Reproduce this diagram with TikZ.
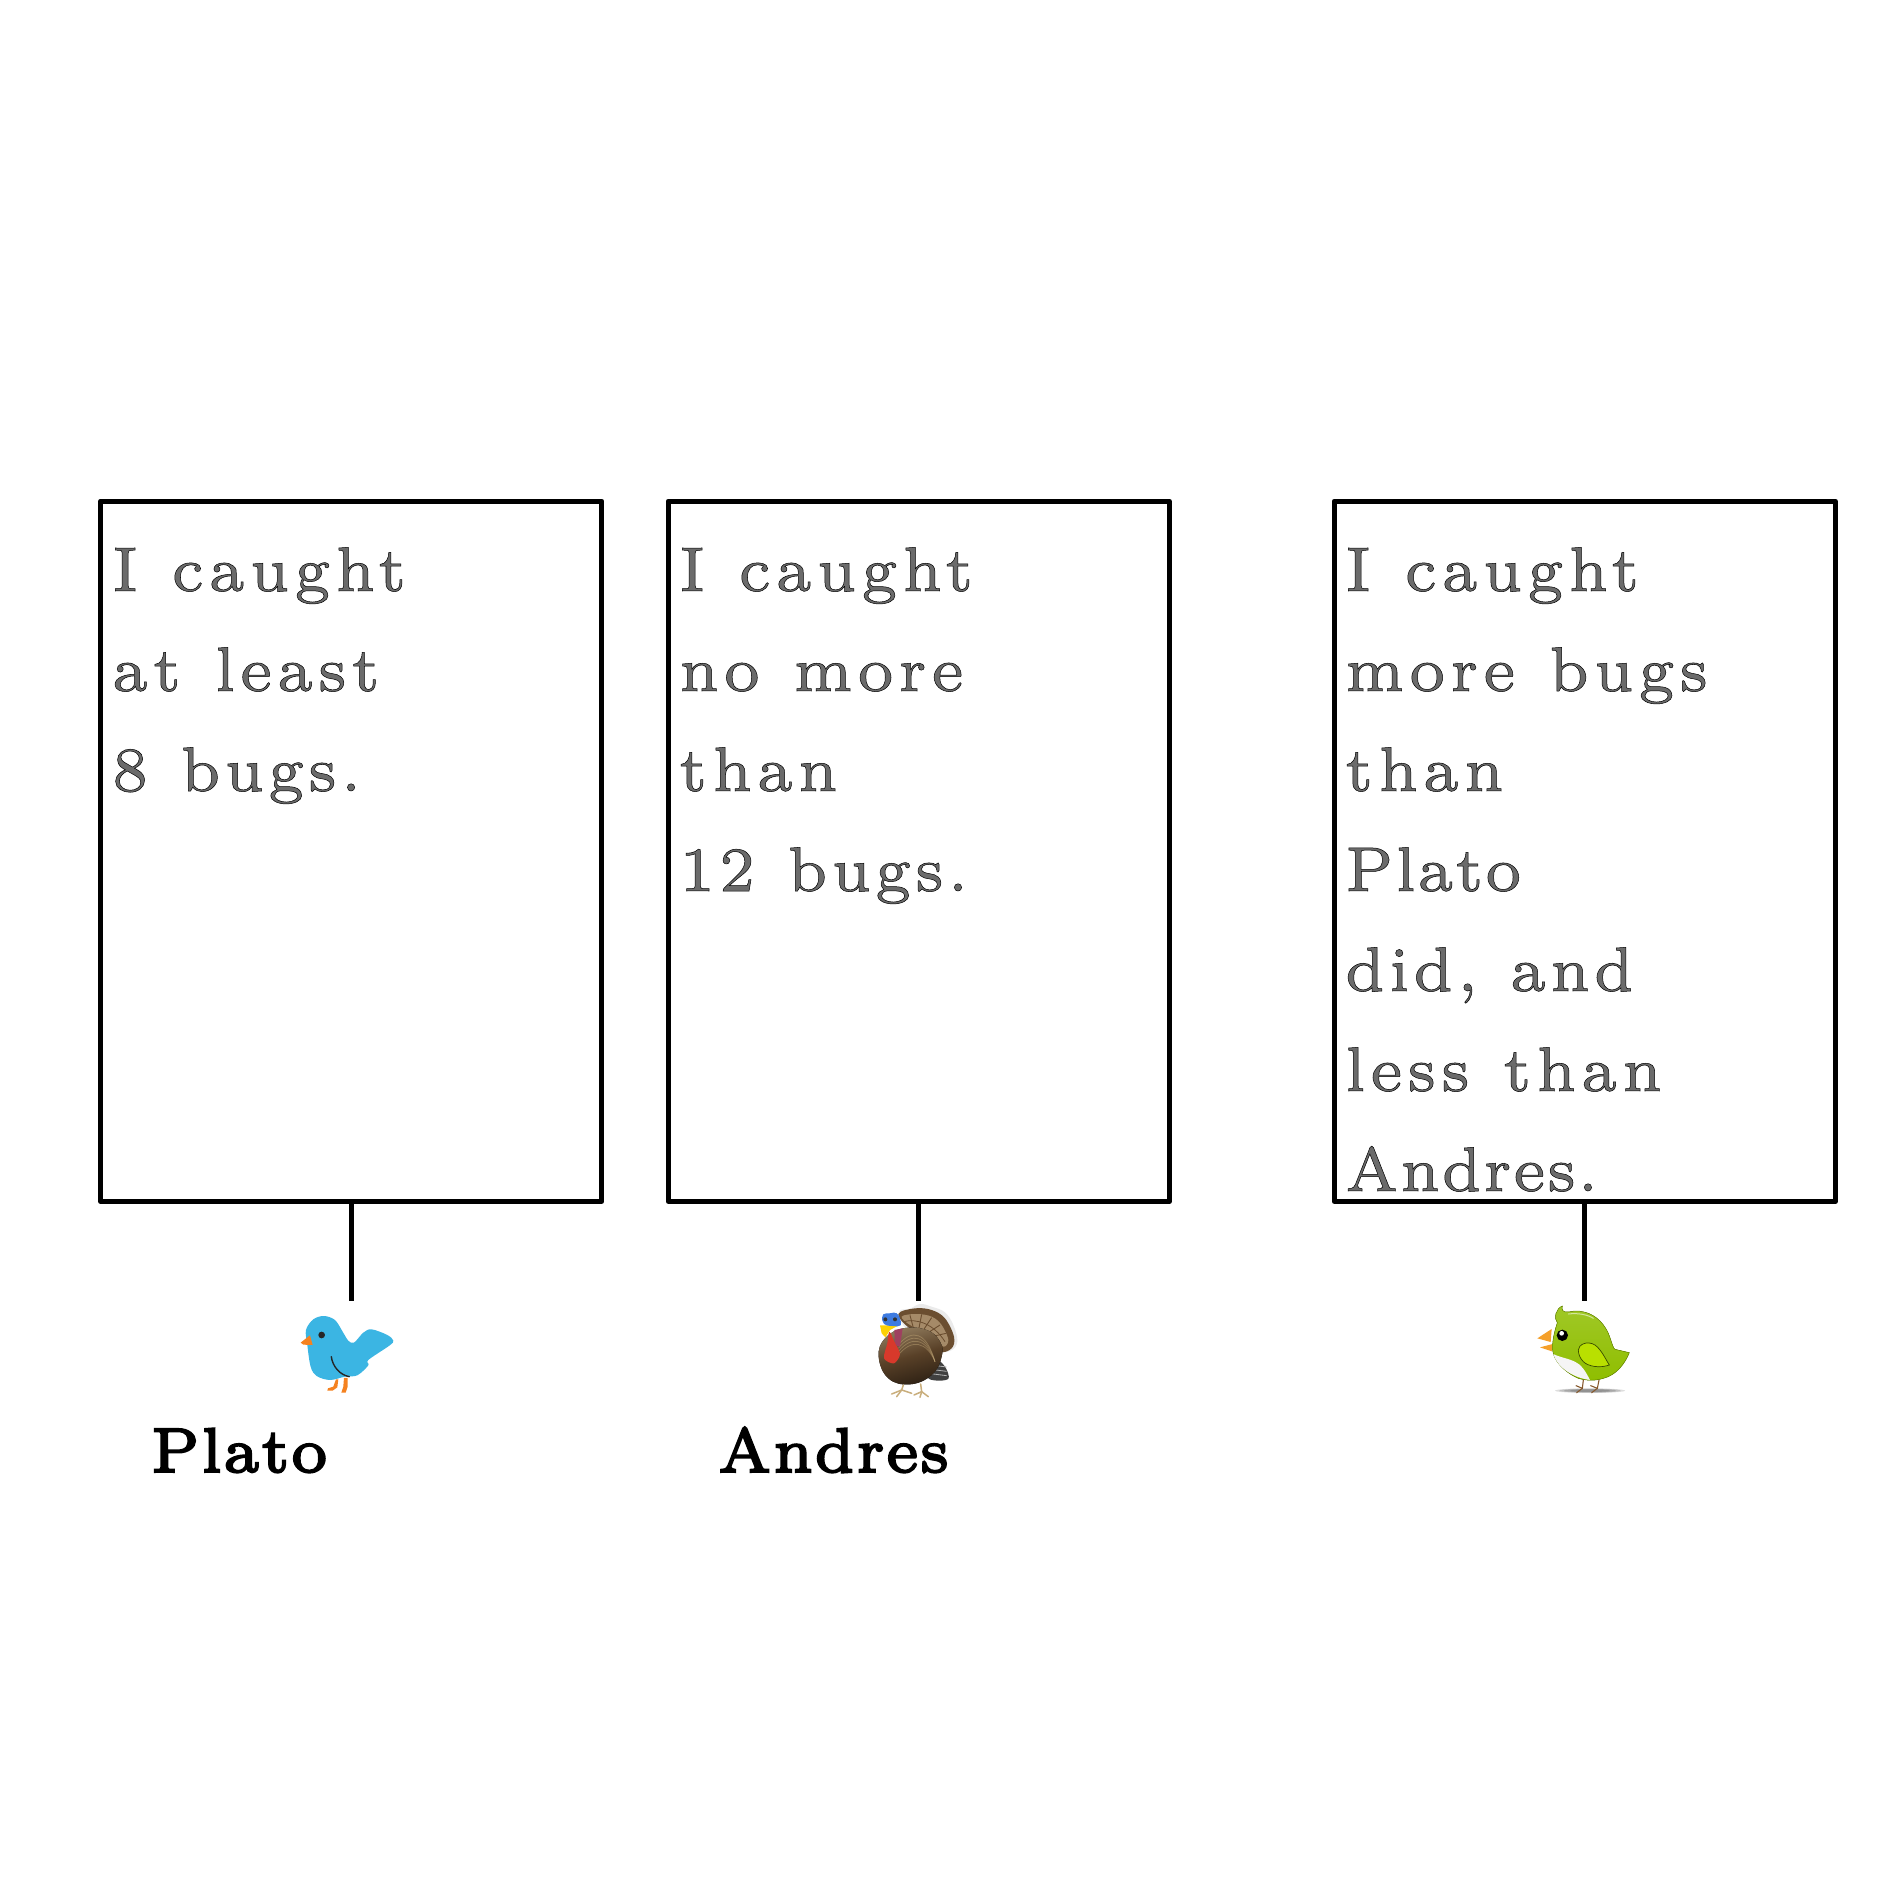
\documentclass[tikz,border=0pt]{standalone}
\usepackage{fontspec}
\setmainfont{Latin Modern Roman}
\newfontfamily\tracked[LetterSpace=8,WordSpace=1.15]{lmroman7-regular.otf}
\newfontfamily\trackedmid[LetterSpace=6.5,WordSpace=1.15]{lmroman7-regular.otf}
\newfontfamily\trackedtight[LetterSpace=3,WordSpace=1.15]{lmroman7-regular.otf}
\definecolor{birdblue}{HTML}{3BB5E3}
\definecolor{birdorange}{HTML}{F58220}
\definecolor{leaf}{HTML}{8FBE00}
\definecolor{leaflight}{HTML}{B9E000}
\definecolor{beakor}{HTML}{F5A02A}
\definecolor{tailbrown}{HTML}{6B4E30}
\definecolor{tailpale}{HTML}{A58A68}
\definecolor{tanleg}{HTML}{C9AE7C}
\definecolor{wattle}{HTML}{D8392B}
\definecolor{headblue}{HTML}{3E7BE0}
\definecolor{bodytop}{HTML}{8F7A5C}
\definecolor{bodylow}{HTML}{2E2114}
\tikzset{
  x=1pt,y=-1pt,
  card/.style={draw=black,line width=5.4pt,line join=round,minimum width=501pt,minimum height=700pt,inner sep=0pt,anchor=north west},
  link/.style={draw=black,line width=5.4pt},
  said/.style={anchor=base west,inner sep=0pt,font=\fontsize{63}{63}\selectfont\tracked},
  saidmid/.style={said,font=\fontsize{63}{63}\selectfont\trackedmid},
  saidtight/.style={said,font=\fontsize{63}{63}\selectfont\trackedtight},
  birdname/.style={anchor=base west,inner sep=0pt,font=\fontsize{63}{63}\selectfont\trackedtight}
}
\newcommand{\inlinetext}[1]{\special{pdf:code 2 Tr 0.5 w 0 0 0 RG 0.42 0.42 0.42 rg}#1\special{pdf:code 0 Tr}}
\newcommand{\heavy}[1]{\special{pdf:code 2 Tr 2 w 0 0 0 RG 0 0 0 rg}#1\special{pdf:code 0 Tr}}
\begin{document}
\begin{tikzpicture}
\useasboundingbox (0,0) rectangle (1900,1900);
\fill[white] (0,0) rectangle (1900,1900);
% cards
\node[card] (c1) at (98,498.5) {};
\node[card] (c2) at (665.5,498.5) {};
\node[card] (c3) at (1331.5,498.5) {};
\coordinate (e1) at (c1.south |- 0,1301);
\coordinate (e2) at (c2.south |- 0,1301);
\coordinate (e3) at (c3.south |- 0,1301);
\draw[link] (c1.south) -- (e1);
\draw[link] (c2.south) -- (e2);
\draw[link] (c3.south) -- (e3);
% card 1
\node[said] (a1) at (112,591) {\inlinetext{I caught}};
\node[said] (a2) at (112,691) {\inlinetext{at least}};
\node[saidmid] (a3) at (112,791) {\inlinetext{8 bugs.}};
% card 2
\node[said] (b1) at (679,591) {\inlinetext{I caught}};
\node[said] (b2) at (679,691) {\inlinetext{no more}};
\node[said] (b3) at (679,791) {\inlinetext{than}};
\node[saidmid] (b4) at (679,891) {\inlinetext{12 bugs.}};
% card 3
\node[said] (d1) at (1345,591) {\inlinetext{I caught}};
\node[said] (d2) at (1345,691) {\inlinetext{more bugs}};
\node[said] (d3) at (1345,791) {\inlinetext{than}};
\node[saidtight] (d4) at (1345,891) {\inlinetext{Plato}};
\node[saidmid] (d5) at (1345,991) {\inlinetext{did, and}};
\node[said] (d6) at (1345,1091) {\inlinetext{less than}};
\node[saidtight] (d7) at (1345,1191) {\inlinetext{Andres.}};
% names
\node[birdname] (n1) at (151,1472) {\heavy{Plato}};
\node[birdname] (n2) at (718,1472) {\heavy{Andres}};
% blue bird
\begin{scope}[shift={(100,1180)},x=0.3333pt,y=-0.3333pt]
\fill[birdorange,line cap=round] (708,598) -- (715,598) -- (712,622) -- (698,632) -- (682,632) -- (684,625) -- (700,620) -- cycle;
\fill[birdorange] (732,594) -- (743,594) -- (743,620) -- (737,638) -- (724,638) -- (730,620) -- cycle;
\fill[birdblue] plot[smooth cycle,tension=0.55] coordinates {(618,450) (640,418) (672,408) (705,420) (728,455) (745,482) (762,488) (790,458) (815,448) (862,465) (880,482) (868,497) (805,540) (805,556) (772,586) (735,590) (690,600) (650,588) (632,560) (622,495)};
\fill[birdorange] (602,488) -- (630,466) -- (638,495) -- (610,494) -- cycle;
\fill[black!85] (665,465) circle[radius=10];
\draw[black!85,line width=1.4pt,line cap=round] (694,530) .. controls (698,560) and (720,585) .. (748,590);
\end{scope}
% turkey
\begin{scope}[shift={(800,1250)},x=0.3333pt,y=-0.3333pt]
\fill[black!8] plot[smooth cycle,tension=0.6] coordinates {(298,185) (330,176) (360,162) (395,170) (435,187) (460,225) (472,275) (450,303) (400,300) (320,240)};
\fill[tailbrown] plot[smooth cycle,tension=0.6] coordinates {(295,192) (345,175) (395,180) (435,205) (462,260) (455,295) (420,305) (400,260) (330,235)};
\fill[tailpale] plot[smooth cycle,tension=0.6] coordinates {(305,200) (350,192) (395,200) (425,225) (445,270) (430,290) (405,260) (335,228)};
\foreach \a/\b in {330/196,365/193,395/203,420/225,438/250}{\draw[tailbrown,line width=0.9pt] (\a,\b) -- (350,270);}
\draw[tailbrown,line width=0.8pt] (310,215) .. controls (350,205) and (400,220) .. (435,275);
\fill[black!75] plot[smooth cycle,tension=0.5] coordinates {(378,345) (415,332) (438,355) (446,385) (420,392) (385,385)};
\foreach \y in {345,358,371}{\draw[black!30,line width=0.8pt] (392,\y) -- (440,\y+6);}
\fill[top color=bodytop,bottom color=bodylow,middle color=tailbrown!70!bodylow,shading angle=15] plot[smooth cycle,tension=0.7] coordinates {(236,320) (255,265) (310,235) (380,240) (420,275) (425,320) (395,375) (330,403) (265,385)};
\foreach \c in {65,55,45,35}{\draw[tanleg,opacity=.4,line width=0.8pt] (295,250+\c) .. controls (335,\c+200) and (380,\c+210) .. (405,335);}
\draw[tanleg,line width=1.5pt,line cap=round] (310,405) -- (305,420) -- (275,432);
\draw[tanleg,line width=1.5pt,line cap=round] (305,420) -- (335,430);
\draw[tanleg,line width=1.5pt,line cap=round] (305,420) -- (290,440);
\draw[tanleg,line width=1.5pt,line cap=round] (362,402) -- (365,425) -- (342,435);
\draw[tanleg,line width=1.5pt,line cap=round] (365,425) -- (385,440);
\draw[tanleg,line width=1.5pt,line cap=round] (365,425) -- (360,442);
\fill[violet!50!brown] (283,240) -- (308,235) -- (300,290) -- (285,285) -- cycle;
\fill[wattle] plot[smooth cycle,tension=0.5] coordinates {(268,245) (283,275) (300,312) (282,340) (252,325) (262,280)};
\fill[yellow!70!orange] (240,226) -- (296,226) -- (270,240) -- (256,262) -- (245,250) -- cycle;
\fill[headblue,rounded corners=5pt] (245,188) -- (272,192) -- (292,183) -- (308,230) -- (248,226) -- cycle;
\fill[black!80] (256,208) circle[radius=6];
\fill[black!80] (285,208) circle[radius=6];
\end{scope}
% green bird
\begin{scope}[shift={(1500,1250)},x=0.3333pt,y=-0.3333pt]
\foreach \r/\s in {105/7,92/6,78/5,60/4}{\fill[black,opacity=.13] (270,422) ellipse[x radius=\r,y radius=\s];}
\draw[brown!70!black,line width=1.1pt,line cap=round] (250,390) -- (247,415) -- (228,407);
\draw[brown!70!black,line width=1.1pt,line cap=round] (247,415) -- (230,428);
\draw[brown!70!black,line width=1.1pt,line cap=round] (297,390) -- (292,415) -- (272,407);
\draw[brown!70!black,line width=1.1pt,line cap=round] (292,415) -- (275,428);
\fill[beakor] (112,265) -- (155,237) -- (152,276) -- cycle;
\fill[beakor] (120,292) -- (158,282) -- (156,304) -- cycle;
\fill[top color=leaf!85!white,bottom color=leaf,draw=leaf!75!black,line width=0.5pt] (172,218) .. controls (160,205) and (168,175) .. (187,168) .. controls (183,180) and (190,188) .. (205,186) .. controls (250,175) and (300,195) .. (325,250) .. controls (335,275) and (340,298) .. (345,298) -- (388,308) .. controls (375,340) and (350,375) .. (310,385) .. controls (285,393) and (260,392) .. (235,385) .. controls (190,365) and (160,330) .. (158,300) .. controls (156,270) and (165,240) .. (172,218) -- cycle;
\fill[white!92!gray] (160,312) .. controls (185,325) and (215,325) .. (240,345) .. controls (255,360) and (262,375) .. (270,390) .. controls (230,385) and (175,360) .. (160,312) -- cycle;
\fill[leaflight,draw=black!60!leaf,line width=0.7pt] (235,300) .. controls (235,285) and (260,270) .. (285,285) .. controls (305,300) and (315,325) .. (328,345) .. controls (300,355) and (265,350) .. (250,335) .. controls (240,325) and (235,312) .. (235,300) -- cycle;
\draw[white,opacity=.55,line width=1pt,line cap=round] (205,192) .. controls (235,188) and (265,195) .. (280,205);
\fill[black] (187,256) circle[radius=17];
\fill[white] (185,250) circle[radius=7];
\end{scope}
\end{tikzpicture}
\end{document}
